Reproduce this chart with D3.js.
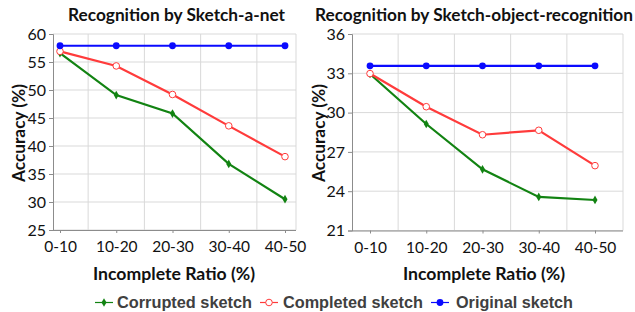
<!DOCTYPE html>
<html><head><meta charset="utf-8">
<script src="https://cdn.jsdelivr.net/npm/d3@7"></script>
<style>body{margin:0;background:#fff}svg{display:block}</style>
</head><body>
<svg id="c" width="635" height="312"></svg>
<script>
const categories = ["0-10","10-20","20-30","30-40","40-50"];
const seriesNames = ["Corrupted sketch","Completed sketch","Original sketch"];
// Sketch-a-net
const sanCorrupted = [56.6, 49.1, 45.8, 36.8, 30.5];
const sanCompleted = [56.9, 54.3, 49.2, 43.6, 38.1];
const sanOriginal  = [57.9, 57.9, 57.9, 57.9, 57.9];
const sanTicks = [25,30,35,40,45,50,55,60];
// Sketch-object-recognition
const sorCorrupted = [32.95, 29.13, 25.67, 23.56, 23.33];
const sorCompleted = [32.98, 30.45, 28.31, 28.65, 25.95];
const sorOriginal  = [33.57, 33.57, 33.57, 33.57, 33.57];
const sorTicks = [21,24,27,30,33,36];

const colors = {"Corrupted sketch":"#128312","Completed sketch":"#ff3b3b","Original sketch":"#0a0aff"};
const svg = d3.select("#c");
const F = "Lato, 'Open Sans', sans-serif";

function squeeze(sel, w){
  sel.attr("textLength", w).attr("lengthAdjust","spacingAndGlyphs");
}

function marker(g, name, x, y){
  if(name==="Corrupted sketch"){
    g.append("path").attr("d", d3.symbol(d3.symbolDiamond, 22)()).attr("transform",`translate(${x},${y})`)
      .attr("fill", colors[name]);
  } else if(name==="Completed sketch"){
    g.append("circle").attr("cx",x).attr("cy",y).attr("r",3.3).attr("fill","#fff").attr("stroke",colors[name]).attr("stroke-width",1);
  } else {
    g.append("circle").attr("cx",x).attr("cy",y).attr("r",3.4).attr("fill",colors[name]);
  }
}

function panel(o){
  const g = svg.append("g");
  const x = d3.scalePoint().domain(categories).range([o.p0, o.p1]);
  const y = d3.scaleLinear().domain(o.domain).range([o.bottom, o.top]);
  const step = x.step();
  g.append("g").selectAll("line").data(o.ticks).join("line")
    .attr("x1", o.left).attr("x2", o.right).attr("y1", d=>y(d)).attr("y2", d=>y(d))
    .attr("stroke", "#d9d9d9").attr("stroke-width",1);
  const vg = categories.slice(0,-1).map(c => x(c) + step/2);
  vg.push(o.right);
  g.append("g").selectAll("line").data(vg).join("line")
    .attr("x1", d=>d).attr("x2", d=>d).attr("y1", o.top).attr("y2", o.bottom)
    .attr("stroke", "#d9d9d9").attr("stroke-width",1);
  const ya = g.append("g").attr("transform",`translate(${o.left},0)`)
    .call(d3.axisLeft(y).tickValues(o.ticks).tickSize(4).tickPadding(3));
  ya.select(".domain").attr("stroke","#8c8c8c");
  ya.selectAll(".tick line").attr("stroke","#8c8c8c");
  ya.selectAll(".tick text").attr("font-family",F).attr("font-size",16).attr("fill","#111");
  const xa = g.append("g").attr("transform",`translate(0,${o.bottom})`)
    .call(d3.axisBottom(x).tickSize(3).tickPadding(8).tickSizeOuter(0));
  xa.select(".domain").attr("d",`M${o.left},0.5H${o.right}`).attr("stroke","#8c8c8c");
  xa.selectAll(".tick line").attr("stroke","#8c8c8c");
  xa.selectAll(".tick text").attr("font-family",F).attr("font-size",15.5).attr("fill","#111");
  const line = d3.line().x((d,i)=>x(categories[i])).y(d=>y(d));
  const data = [[seriesNames[0],o.corr],[seriesNames[1],o.comp],[seriesNames[2],o.orig]];
  data.forEach(([name, vals])=>{
    g.append("path").attr("d", line(vals)).attr("fill","none").attr("stroke",colors[name]).attr("stroke-width",2.2);
  });
  data.forEach(([name, vals])=>{
    vals.forEach((v,i)=>marker(g, name, x(categories[i]), y(v)));
  });
  const t = g.append("text").attr("x", o.titleX).attr("y", 21).attr("text-anchor","middle")
    .attr("font-family",F).attr("font-weight","bold").attr("font-size",16.5).attr("fill","#111").text(o.title);
  squeeze(t, o.titleW);
  const xl = g.append("text").attr("x", o.xlabX).attr("y", 280).attr("text-anchor","middle")
    .attr("font-family",F).attr("font-weight","bold").attr("font-size",16.5).attr("fill","#111").text("Incomplete Ratio (%)");
  squeeze(xl, 162);
  const yl = g.append("text").attr("transform",`translate(${o.ylabX},133) rotate(-90)`).attr("text-anchor","middle")
    .attr("font-family",F).attr("font-weight","bold").attr("font-size",16.5).attr("fill","#111").text("Accuracy (%)");
  squeeze(yl, 98);
}

panel({left:53, right:296, top:34, bottom:230, p0:60, p1:285, domain:[25,60], ticks:sanTicks,
  corr:sanCorrupted, comp:sanCompleted, orig:sanOriginal, title:"Recognition by Sketch-a-net",
  titleX:176.5, titleW:217, xlabX:174, ylabX:25});
panel({left:352, right:623, top:34, bottom:230.5, p0:370, p1:595, domain:[21,36], ticks:sorTicks,
  corr:sorCorrupted, comp:sorCompleted, orig:sorOriginal, title:"Recognition by Sketch-object-recognition",
  titleX:474, titleW:318, xlabX:484, ylabX:325});

const lg = svg.append("g");
const legendItems = [
  {name:seriesNames[0], lx:95, tx:117, tw:135},
  {name:seriesNames[1], lx:260, tx:283, tw:140},
  {name:seriesNames[2], lx:431, tx:456, tw:117}
];
legendItems.forEach(it=>{
  lg.append("line").attr("x1",it.lx).attr("x2",it.lx+18).attr("y1",302.5).attr("y2",302.5)
    .attr("stroke",colors[it.name]).attr("stroke-width",1.2);
  marker(lg, it.name, it.lx+9, 302.5);
  const t = lg.append("text").attr("x",it.tx).attr("y",308).attr("font-family","'Liberation Sans', Arial, sans-serif")
    .attr("font-weight","bold").attr("font-size",16).attr("fill","#404040").text(it.name);
  squeeze(t, it.tw);
});
</script>
</body></html>
